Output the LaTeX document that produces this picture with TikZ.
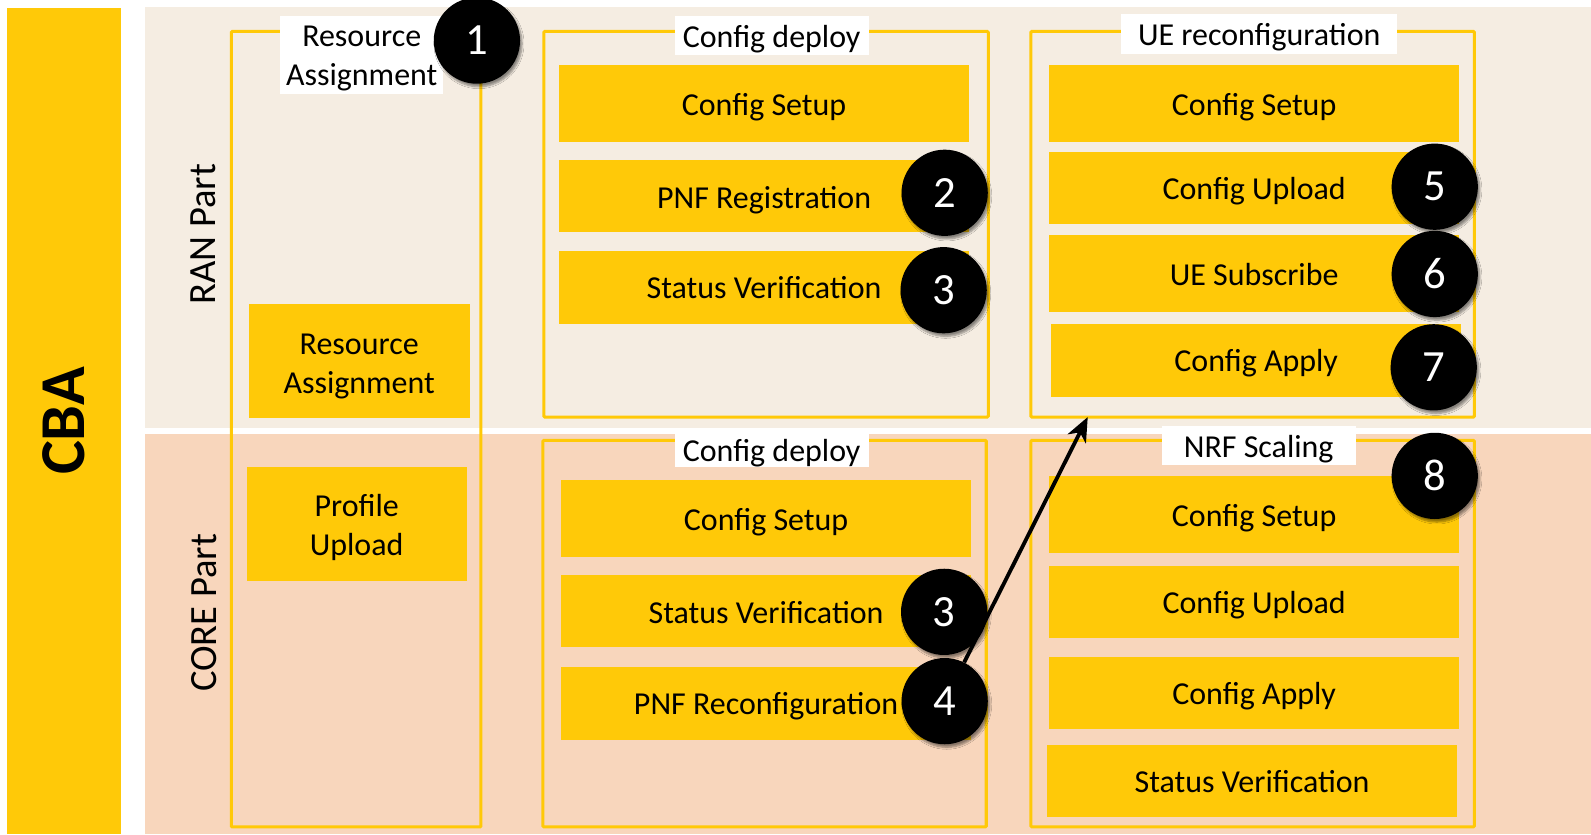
\documentclass[tikz,border=0pt]{standalone}
\usepackage{fontspec}
\setmainfont{Carlito}
\usetikzlibrary{arrows.meta,shadows.blur}

\definecolor{cbayellow}{RGB}{255,201,8}
\definecolor{ranbg}{RGB}{245,237,226}
\definecolor{corebg}{RGB}{248,214,188}

\newcommand{\twolines}[3]{\raisebox{-#1}[\height][\depth]{\begin{tabular}{@{}c@{}}#2\\#3\end{tabular}}}

\begin{document}
\begin{tikzpicture}[x=1pt, y=-1pt,
     lane/.style = {rectangle, inner sep=0pt, outer sep=0pt},
     frame/.style = {draw=cbayellow, line width=3pt, rectangle, inner sep=0pt, rounded corners=1pt},
     title/.style = {fill=white, rectangle, inner sep=0pt,
      font=\fontsize{31.5}{38}\selectfont},
     block/.style = {fill=cbayellow, rectangle, inner sep=0pt,
      font=\fontsize{31.5}{38}\selectfont},
     oneline/.style = {text height=28pt, text depth=5pt},
     part/.style = {rotate=90, font=\fontsize{38}{44}\selectfont},
     badge/.style = {circle, fill=black, text=white, minimum size=85pt, inner sep=0pt,
      font=\fontsize{44}{48}\selectfont,
      blur shadow={shadow xshift=2pt, shadow yshift=-3pt, shadow blur steps=6, shadow opacity=45}},
     arrow/.style = {draw, line width=3.8pt, -{Stealth[length=24pt, width=20pt, inset=7pt]}}
    ]
    \useasboundingbox (0,0) rectangle (1568,822);

    \node [lane, fill=cbayellow, minimum width=112pt, minimum height=814pt] (cba) at (63,415) {};
    \node [lane, fill=ranbg, minimum width=1425pt, minimum height=415pt] (ran) at (855.5,214.5) {};
    \node [lane, fill=corebg, minimum width=1425pt, minimum height=394pt] (core) at (855.5,625) {};
    \node [rotate=90, font=\fontsize{63}{70}\selectfont\bfseries] (cbaLabel) at (cba) {CBA};
    \node [part] (ranLabel) at (200,231) {RAN Part};
    \node [part] (coreLabel) at (201,604) {CORE Part};

    \node [frame, minimum width=246pt, minimum height=784pt] (resFrame) at (351,423) {};
    \node [frame, minimum width=438pt, minimum height=380pt] (ranDeploy) at (755,221) {};
    \node [frame, minimum width=437pt, minimum height=380pt] (ueReconf) at (1234.5,221) {};
    \node [frame, minimum width=437pt, minimum height=381pt] (coreDeploy) at (753.5,624.5) {};
    \node [frame, minimum width=437pt, minimum height=381pt] (nrfScaling) at (1234.5,624.5) {};

    \node [title, minimum width=161pt, minimum height=77pt] (resTitle) at (356.5,54.5) {\twolines{3pt}{Resource}{Assignment}};
    \node [title, oneline, minimum width=191pt, minimum height=38pt] (ranDeployTitle) at (760.5,35) {Config deploy};
    \node [title, oneline, minimum width=272pt, minimum height=39pt] (ueTitle) at (1241,33.5) {UE reconfiguration};
    \node [title, oneline, minimum width=191pt, minimum height=33pt] (coreDeployTitle) at (760.5,443.5) {Config deploy};
    \node [title, oneline, minimum width=191pt, minimum height=38pt] (nrfTitle) at (1240.5,439) {NRF Scaling};

    \node [block, minimum width=218pt, minimum height=112pt] (resAssign) at (354,356) {\twolines{5pt}{Resource}{Assignment}};
    \node [block, minimum width=217pt, minimum height=113pt] (profUpload) at (351.5,516.5) {\twolines{4pt}{Profile}{Upload}};

    \node [block, oneline, minimum width=404pt, minimum height=76pt] (ranSetup) at (753,102) {Config Setup};
    \node [block, oneline, minimum width=404pt, minimum height=71pt] (ranPnfReg) at (753,193.5) {PNF Registration};
    \node [block, oneline, minimum width=404pt, minimum height=72pt] (ranStatus) at (753,283) {Status Verification};

    \node [block, oneline, minimum width=404pt, minimum height=76pt] (ueSetup) at (1236,102) {Config Setup};
    \node [block, oneline, minimum width=404pt, minimum height=71pt] (ueUpload) at (1236,185.5) {Config Upload};
    \node [block, oneline, minimum width=404pt, minimum height=75pt] (ueSubscribe) at (1236,269.5) {UE Subscribe};
    \node [block, oneline, minimum width=404pt, minimum height=72pt] (ueApply) at (1238,355) {Config Apply};

    \node [block, oneline, minimum width=404pt, minimum height=76pt] (coreSetup) at (755,511) {Config Setup};
    \node [block, oneline, minimum width=404pt, minimum height=71pt] (coreStatus) at (755,602.5) {Status Verification};
    \node [block, oneline, minimum width=404pt, minimum height=72pt] (corePnfReconf) at (755,693) {PNF Reconfiguration};

    \node [block, oneline, minimum width=404pt, minimum height=76pt] (nrfSetup) at (1236,507) {Config Setup};
    \node [block, oneline, minimum width=404pt, minimum height=71pt] (nrfUpload) at (1236,593.5) {Config Upload};
    \node [block, oneline, minimum width=404pt, minimum height=71pt] (nrfApply) at (1236,682.5) {Config Apply};
    \node [block, oneline, minimum width=404pt, minimum height=71pt] (nrfStatus) at (1234,769.5) {Status Verification};

    \node [badge] (n1) at (470,40) {1};
    \node [badge] (n2) at (931,190) {2};
    \node [badge] (n3) at (930,286) {3};
    \node [badge] (n5) at (1414,184) {5};
    \node [badge] (n6) at (1414,270) {6};
    \node [badge] (n7) at (1413,362) {7};
    \node [badge] (n8) at (1414,469) {8};
    \node [badge] (m3) at (930.5,603) {3};
    \node [badge] (n4) at (931,691) {4};

    \coordinate (reconfTarget) at (1072,411);
    \draw [arrow] (n4) -- (reconfTarget);
\end{tikzpicture}
\end{document}
